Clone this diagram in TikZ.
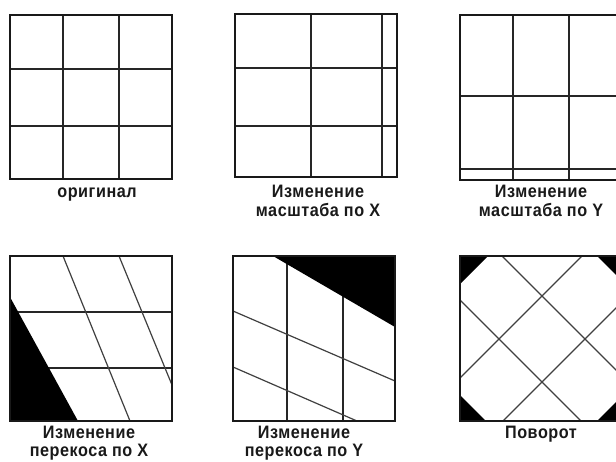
\documentclass[tikz,border=0pt]{standalone}
\usepackage{fontspec}
\newfontfamily\labfont[FakeStretch=0.9,LetterSpace=3]{Liberation Sans}
\begin{document}
\begin{tikzpicture}[x=1pt,y=-1pt,
  frame/.style={draw=black!90,line width=1.3pt},
  gridline/.style={draw=black!85,line width=1.2pt},
  slant/.style={draw=black!75,line width=1.2pt},
  blackfill/.style={fill=black},
  lab/.style={font=\labfont\bfseries\fontsize{18}{21}\selectfont,inner sep=0pt,anchor=base,text=black!90}]
\useasboundingbox (0,0) rectangle (616,461);
\clip (0,0) rectangle (616,461);
\fill[white] (0,0) rectangle (616,461);

% ---- panel 1: original
\draw[gridline] (63,15) -- (63,179) (119,15) -- (119,179) (10,69) -- (172,69) (10,126) -- (172,126);
\draw[frame] (10,15) rectangle (172,179);
\node[lab] (l1) at (97,197) {оригинал};

% ---- panel 2: scale X
\draw[gridline] (311,14) -- (311,177) (382,14) -- (382,177) (235,68) -- (397,68) (235,126) -- (397,126);
\draw[frame] (235,14) rectangle (397,177);
\node[lab] (l2a) at (318,197) {Изменение};
\node[lab] (l2b) at (318,216) {масштаба по X};

% ---- panel 3: scale Y
\draw[gridline] (513,15) -- (513,180) (569,15) -- (569,180) (460,96) -- (622,96) (460,169) -- (622,169);
\draw[frame] (460,15) rectangle (622,180);
\node[lab] (l3a) at (541,197) {Изменение};
\node[lab] (l3b) at (541,216) {масштаба по Y};

% ---- panel 4: skew X
\draw[gridline] (10,312) -- (172,312) (10,368) -- (172,368);
\draw[slant] (63,256) -- (130,421) (119,256) -- (172,385);
\fill[blackfill] (10,297) -- (10,421) -- (78,421) -- cycle;
\draw[frame] (10,256) rectangle (172,421);
\node[lab] (l4a) at (89,438) {Изменение};
\node[lab] (l4b) at (89,456) {перекоса по X};

% ---- panel 5: skew Y
\draw[gridline] (287,256) -- (287,421) (343,256) -- (343,421);
\draw[slant] (233,311) -- (395,381) (233,367) -- (357,421);
\fill[blackfill] (273,256) -- (395,256) -- (395,327) -- cycle;
\draw[frame] (233,256) rectangle (395,421);
\node[lab] (l5a) at (304,438) {Изменение};
\node[lab] (l5b) at (304,456) {перекоса по Y};

% ---- panel 6: rotation
\begin{scope}
\clip (460,256) rectangle (622,421);
\fill[blackfill] (460,256) -- (488,256) -- (460,284) -- cycle;
\fill[blackfill] (597,256) -- (622,256) -- (622,281) -- cycle;
\fill[blackfill] (460,395) -- (460,421) -- (486,421) -- cycle;
\fill[blackfill] (597,421) -- (622,421) -- (622,396) -- cycle;
% lines y - x = c
\draw[slant] (400,154) -- (700,454);
\draw[slant] (400,240) -- (700,540);
% lines x + y = c
\draw[slant] (400,438) -- (700,138);
\draw[slant] (400,524) -- (700,224);
\end{scope}
\draw[frame] (460,256) rectangle (622,421);
\node[lab] (l6) at (541,438) {Поворот};
\end{tikzpicture}
\end{document}
